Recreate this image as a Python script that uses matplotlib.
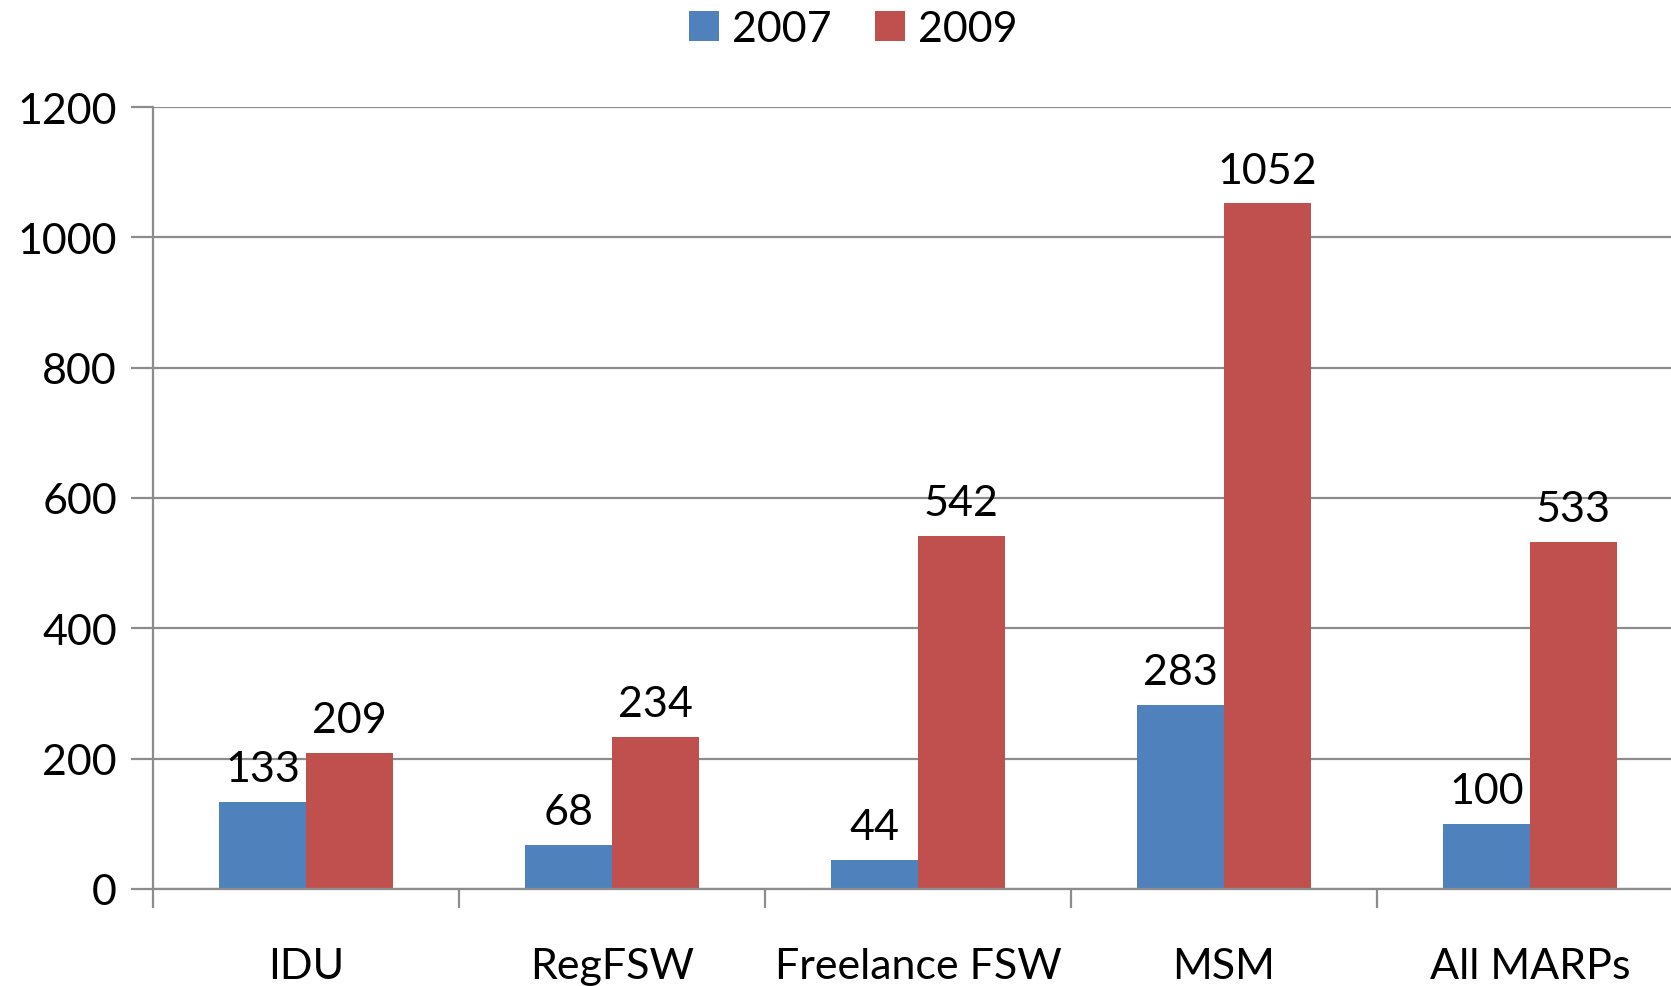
import matplotlib
matplotlib.use("Agg")
import matplotlib.pyplot as plt
import numpy as np

categories = ["IDU", "RegFSW", "Freelance FSW", "MSM", "All MARPs"]
series_names = ["2007", "2009"]
values_2007 = [133, 68, 44, 283, 100]
values_2009 = [209, 234, 542, 1052, 533]
yticks = [0, 200, 400, 600, 800, 1000, 1200]

colors = ["#4F81BD", "#C0504D"]
grid_col = "#8C8C8C"

plt.rcParams['font.family'] = ['Lato', 'DejaVu Sans']
FS = 31

fig = plt.figure(figsize=(16.71, 9.87), dpi=100)
W, H = 1671, 987
left, right = 153 / W, (153 + 306 * 5) / W
bottom, top = 1 - 890 / H, 1 - 108 / H
ax = fig.add_axes([left, bottom, right - left, top - bottom])

x = np.arange(len(categories))
bw = 0.284
b1 = ax.bar(x - bw / 2, values_2007, bw, color=colors[0], label=series_names[0], zorder=3)
b2 = ax.bar(x + bw / 2, values_2009, bw, color=colors[1], label=series_names[1], zorder=3)

for bars, vals in ((b1, values_2007), (b2, values_2009)):
    for r, v in zip(bars, vals):
        ax.annotate(str(v), (r.get_x() + r.get_width() / 2, v), xytext=(0, 10),
                    textcoords="offset points", ha="center", va="bottom", fontsize=FS)

ax.set_xlim(-0.5, len(categories) - 0.5)
ax.set_ylim(0, 1200)
ax.set_yticks(yticks)
ax.set_yticklabels([str(t) for t in yticks], fontsize=FS)
ax.yaxis.grid(True, color=grid_col, linewidth=1.6, zorder=0)
ax.set_axisbelow(True)

ax.set_xticks(np.arange(len(categories) + 1) - 0.5)
ax.set_xticklabels([])
ax.set_xticks(x, minor=True)
ax.set_xticklabels(categories, minor=True, fontsize=FS)
ax.tick_params(axis='x', which='minor', length=0, pad=42)
ax.tick_params(axis='x', which='major', length=14, width=1.6, color=grid_col, direction='out')
ax.tick_params(axis='y', length=16, width=1.6, color=grid_col, pad=10)

for s in ("top", "right"):
    ax.spines[s].set_visible(False)
for s in ("left", "bottom"):
    ax.spines[s].set_color(grid_col)
    ax.spines[s].set_linewidth(1.6)
ax.spines["bottom"].set_zorder(4)

fig.legend(handles=[b1, b2], labels=series_names, loc="center", bbox_to_anchor=(853 / W, 1 - 30 / H),
           ncol=2, frameon=False, fontsize=FS, handlelength=0.7, handleheight=0.7,
           handletextpad=0.3, columnspacing=1.0)

fig.savefig("out.png", dpi=100)
